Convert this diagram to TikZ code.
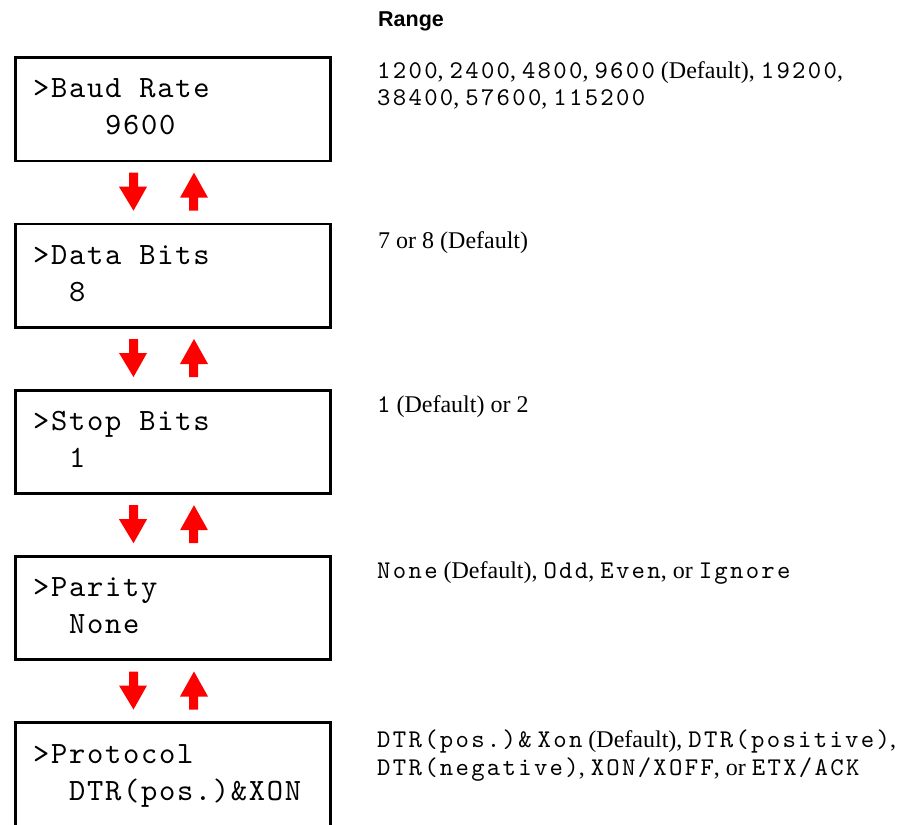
\documentclass[tikz,border=0pt]{standalone}
\usepackage{fontspec}
\setmainfont{Liberation Serif}
\newfontfamily\lcdfont[LetterSpace=5.5]{lmmono10-regular.otf}
\newfontfamily\valfont[LetterSpace=9]{lmmono10-regular.otf}
\newfontfamily\headfont{Liberation Sans}
\begin{document}
\begin{tikzpicture}[x=1pt,y=-1pt,
  lcdbox/.style={draw=black,line width=2.7pt,minimum width=315.3pt,minimum height=103.3pt,inner sep=0pt,anchor=north west},
  lcdtext/.style={font=\fontsize{31}{37}\lcdfont,inner sep=0pt,anchor=base west},
  rangetext/.style={font=\fontsize{24}{24}\selectfont,inner sep=0pt,anchor=base west},
  redarrow/.style={fill=red,draw=none}]
\useasboundingbox (0,0) rectangle (909,824);
\clip (0,0) rectangle (909,824);
\newcommand{\vf}[1]{{\fontsize{25.5}{24}\valfont #1}}
% heading
\node[font=\fontsize{21.5}{22}\headfont\bfseries,inner sep=0pt,anchor=base west] (range) at (378,27) {Range};
% boxes
\foreach \i/\t in {1/55,2/221.25,3/387.5,4/553.75,5/720}{
  \node[lcdbox] (box\i) at (14,\t+1.35) {};
}
% arrows between boxes
\foreach \b in {160.7,327,493.2,659.5}{
  \fill[redarrow] (129,\b+12) -- (138,\b+12) -- (138,\b+26) -- (147,\b+26) -- (133.5,\b+50) -- (119,\b+26) -- (129,\b+26) -- cycle;
  \fill[redarrow] (194,\b+12) -- (208,\b+37) -- (198,\b+37) -- (198,\b+50) -- (189,\b+50) -- (189,\b+37) -- (180,\b+37) -- cycle;
}
% LCD texts
\node[lcdtext] (l1a) at (33,98) {>Baud Rate};
\node[lcdtext] (l1b) at (33,135) {\ \ \ \ 9600};
\node[lcdtext] (l2a) at (33,264.25) {>Data Bits};
\node[lcdtext] (l2b) at (33,301.25) {\ \ 8};
\node[lcdtext] (l3a) at (33,430.5) {>Stop Bits};
\node[lcdtext] (l3b) at (33,467.5) {\ \ 1};
\node[lcdtext] (l4a) at (33,596.75) {>Parity};
\node[lcdtext] (l4b) at (33,633.75) {\ \ None};
\node[lcdtext] (l5a) at (33,763) {>Protocol};
\node[lcdtext] (l5b) at (33,800) {\ \ DTR(pos.)\&XON};
% ranges
\node[rangetext] (r1a) at (377,79) {\vf{1200}, \vf{2400}, \vf{4800}, \vf{9600} (Default), \vf{19200},};
\node[rangetext] (r1b) at (377,106) {\vf{38400}, \vf{57600}, \vf{115200}};
\node[rangetext] (r2) at (378,248) {7 or 8 (Default)};
\node[rangetext] (r3) at (377,412) {\vf{1} (Default) or 2};
\node[rangetext] (r4) at (377,578) {\vf{None} (Default), \vf{Odd}, \vf{Even}, or \vf{Ignore}};
\node[rangetext] (r5a) at (377,747) {\vf{DTR(pos.)\&} \vf{Xon} (Default), \vf{DTR(positive)},};
\node[rangetext] (r5b) at (377,775) {\vf{DTR(negative)}, \vf{XON/XOFF}, or \vf{ETX/ACK}};
\end{tikzpicture}
\end{document}
